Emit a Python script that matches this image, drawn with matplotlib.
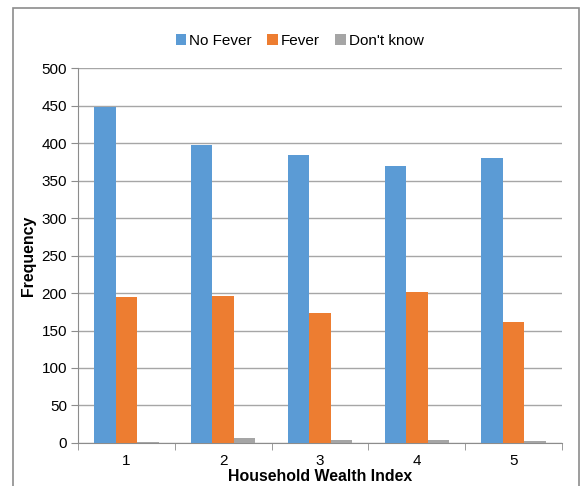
from matplotlib import pyplot as plt
from matplotlib.patches import Rectangle
import numpy as np

plt.rcParams['font.family'] = ['Liberation Sans', 'DejaVu Sans']

# Data
categories = ['1', '2', '3', '4', '5']
no_fever = [448, 398, 384, 369, 380]
fever = [195, 196, 174, 202, 162]
dont_know = [1, 7, 4, 4, 3]

series_names = ['No Fever', 'Fever', "Don't know"]
series_colors = ['#5B9BD5', '#ED7D31', '#A5A5A5']

fig = plt.figure(figsize = (5.82, 4.86), dpi = 100)
ax = fig.add_axes([0.134, 0.0885, 0.8316, 0.7715])

x = np.arange(1, len(categories) + 1)
bar_w = 0.222
for i, (vals, name, col) in enumerate(zip([no_fever, fever, dont_know], series_names, series_colors)):
  ax.bar(x + (i - 1) * bar_w, vals, width = bar_w, color = col, label = name,
         edgecolor = 'none', zorder = 3)

ax.set_xlim(0.5, len(categories) + 0.5)
ax.set_ylim(0, 500)
ax.set_yticks(range(0, 501, 50))
ax.set_yticklabels([str(v) for v in range(0, 501, 50)], fontsize = 11)
ax.set_xticks(x)
ax.set_xticklabels(categories, fontsize = 11)
ax.set_xticks(np.arange(0.5, len(categories) + 1, 1.0), minor = True)

ax.tick_params(axis = 'x', which = 'major', length = 0, pad = 8)
ax.tick_params(axis = 'x', which = 'minor', length = 5, color = '#8c8c8c', direction = 'out')
ax.tick_params(axis = 'y', length = 5, color = '#8c8c8c', direction = 'out', pad = 3)

ax.grid(True, axis = 'y', color = '#a6a6a6', linewidth = 1.0, zorder = 0)
for side in ['top', 'right']:
  ax.spines[side].set_visible(False)
ax.spines['left'].set_color('#8c8c8c')
ax.spines['bottom'].set_color('#8c8c8c')

ax.set_xlabel('Household Wealth Index', fontsize = 11.4, fontweight = 'bold', labelpad = 1)
ax.set_ylabel('Frequency', fontsize = 11.4, fontweight = 'bold', labelpad = 4)

fig.legend(loc = 'center', bbox_to_anchor = (0.515, 0.916), ncol = 3, frameon = False,
           fontsize = 11, handlelength = 0.7, handleheight = 0.7, handletextpad = 0.2,
           columnspacing = 1.0)

# Outer chart border (bottom edge runs off the picture)
fig.patches.append(Rectangle((0.0223, -0.05), 0.9725, 1.0335, transform = fig.transFigure,
                             fill = False, edgecolor = '#8c8c8c', linewidth = 1.2))

fig.savefig('out.png', dpi = 100)
